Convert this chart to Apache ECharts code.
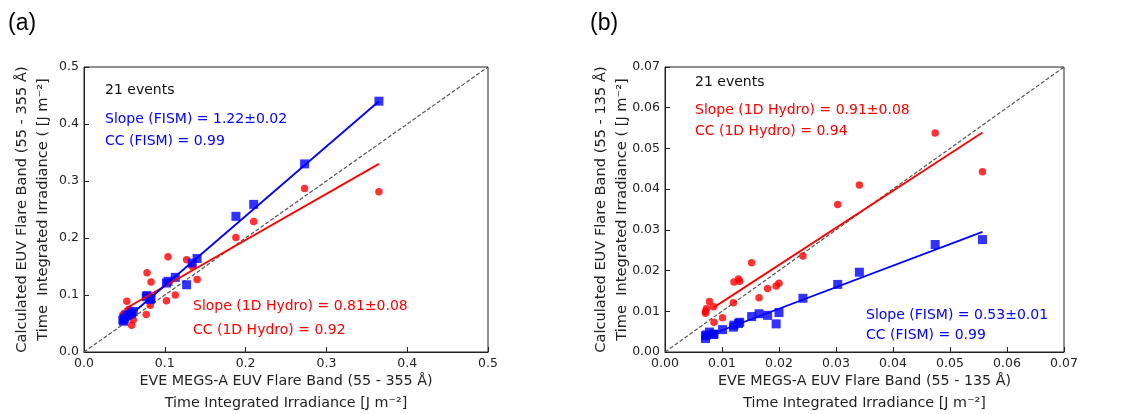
<!DOCTYPE html>
<html>
<head>
<meta charset="utf-8">
<script src="https://cdn.jsdelivr.net/npm/echarts@6/dist/echarts.min.js"></script>
<style>
  html, body { margin: 0; padding: 0; background: #fff; }
  #chart { width: 1134px; height: 414px; }
</style>
</head>
<body>
<div id="chart"></div>
<script>
// Panel (a): 55-355 Å band, observed (EVE) vs calculated irradiance per event
const eveA   = [0.365, 0.273, 0.210, 0.188, 0.140, 0.134, 0.127, 0.113, 0.104, 0.102, 0.083,
                0.078, 0.082, 0.077, 0.061, 0.059, 0.056, 0.053, 0.050, 0.048, 0.049];
const fismA  = [0.440, 0.330, 0.259, 0.238, 0.164, 0.156, 0.118, 0.131, 0.124, 0.121, 0.094,
                0.099, 0.092, 0.097, 0.071, 0.068, 0.066, 0.064, 0.059, 0.056, 0.054];
const hydroA = [0.281, 0.287, 0.229, 0.201, 0.127, 0.150, 0.162, 0.100, 0.167, 0.090, 0.123,
                0.139, 0.082, 0.066, 0.056, 0.047, 0.075, 0.089, 0.068, 0.065, 0.060];
// Least-squares fit lines (end points)
const fitFismA  = [[0.048, 0.053], [0.365, 0.440]];
const fitHydroA = [[0.050, 0.075], [0.365, 0.330]];

// Panel (b): 55-135 Å band
const eveB   = [0.0557, 0.0474, 0.0341, 0.0303, 0.0242, 0.0200, 0.0195, 0.0180, 0.0165, 0.0152, 0.0131,
                0.0129, 0.0121, 0.0120, 0.0101, 0.0086, 0.0085, 0.0078, 0.0073, 0.0071, 0.0071];
const fismB  = [0.0276, 0.0264, 0.0196, 0.0166, 0.0132, 0.0097, 0.0069, 0.0090, 0.0094, 0.0087, 0.0073,
                0.0070, 0.0066, 0.0061, 0.0055, 0.0044, 0.0043, 0.0049, 0.0042, 0.0040, 0.0033];
const hydroB = [0.0443, 0.0538, 0.0410, 0.0362, 0.0236, 0.0169, 0.0162, 0.0156, 0.0133, 0.0219, 0.0174,
                0.0179, 0.0172, 0.0121, 0.0084, 0.0073, 0.0111, 0.0124, 0.0107, 0.0095, 0.0100];
const fitFismB  = [[0.0071, 0.0038], [0.0557, 0.0295]];
const fitHydroB = [[0.0085, 0.0109], [0.0557, 0.0539]];

// Axis ranges and tick steps
const axisA = { max: 0.5, step: 0.1, digits: 1 };
const axisB = { max: 0.07, step: 0.01, digits: 2 };

const zip = (xs, ys) => xs.map((x, i) => [x, ys[i]]);

const FONT = 'DejaVu Sans';
const BLUE = '#0000ff';
const RED = '#ff0000';
const INK = '#222';

const GRIDS = [
  { left: 84, top: 67, width: 404, height: 285 },
  { left: 665, top: 67, width: 399, height: 285 }
];

function valueAxis(idx, ax) {
  return {
    type: 'value', gridIndex: idx, min: 0, max: ax.max, interval: ax.step,
    axisLine: { show: true, lineStyle: { color: INK, width: 1 } },
    axisTick: { show: true, inside: true, length: 5, lineStyle: { color: INK } },
    axisLabel: {
      color: INK, fontFamily: FONT, fontSize: 12.5, margin: 5,
      formatter: v => v.toFixed(ax.digits)
    },
    splitLine: { show: false }
  };
}

function panelSeries(idx, ax, eve, fism, hydro, fitF, fitH) {
  return [
    {
      type: 'line', xAxisIndex: idx, yAxisIndex: idx, data: [[0, 0], [ax.max, ax.max]],
      symbol: 'none', silent: true, z: 1,
      lineStyle: { color: '#555', width: 1.2, type: [4, 2] }
    },
    {
      type: 'scatter', xAxisIndex: idx, yAxisIndex: idx, data: zip(eve, hydro),
      symbol: 'circle', symbolSize: 7.5, itemStyle: { color: RED }, z: 2
    },
    {
      type: 'scatter', xAxisIndex: idx, yAxisIndex: idx, data: zip(eve, fism),
      symbol: 'rect', symbolSize: 9, itemStyle: { color: BLUE }, z: 3
    },
    {
      type: 'line', xAxisIndex: idx, yAxisIndex: idx, data: fitH,
      symbol: 'none', z: 4, lineStyle: { color: RED, width: 1.8 }
    },
    {
      type: 'line', xAxisIndex: idx, yAxisIndex: idx, data: fitF,
      symbol: 'none', z: 4, lineStyle: { color: BLUE, width: 1.8 }
    }
  ];
}

function txt(x, y, text, color, size, extra, family) {
  return Object.assign({
    type: 'text', x: x, y: y, z: 10,
    style: {
      text: text, fill: color, font: `${size}px "${family || FONT}"`,
      textAlign: 'left', textVerticalAlign: 'middle'
    }
  }, extra || {});
}

function axisTitles(grid, bandText, yLine1X, yLine2X) {
  const cx = grid.left + grid.width / 2;
  const cy = grid.top + grid.height / 2;
  const rot = { rotation: Math.PI / 2 };
  const items = [
    txt(cx, grid.top + grid.height + 29, `EVE MEGS-A EUV Flare Band (${bandText})`, INK, 14.3),
    txt(cx, grid.top + grid.height + 51, 'Time Integrated Irradiance [J m⁻²]', INK, 14.3),
    txt(yLine1X, cy, `Calculated EUV Flare Band (${bandText})`, INK, 14.6, rot),
    txt(yLine2X, cy, 'Time  Integrated Irradiance ( [J m⁻²]', INK, 14.6, rot)
  ];
  items.forEach(it => { it.style.textAlign = 'center'; });
  return items;
}

const chart = echarts.init(document.getElementById('chart'), null, { renderer: 'canvas' });

chart.setOption({
  backgroundColor: '#fff',
  animation: false,
  grid: GRIDS.map(g => Object.assign({ show: true, borderColor: INK, borderWidth: 1, containLabel: false }, g)),
  xAxis: [valueAxis(0, axisA), valueAxis(1, axisB)],
  yAxis: [valueAxis(0, axisA), valueAxis(1, axisB)],
  series: [
    ...panelSeries(0, axisA, eveA, fismA, hydroA, fitFismA, fitHydroA),
    ...panelSeries(1, axisB, eveB, fismB, hydroB, fitFismB, fitHydroB)
  ],
  graphic: [
    txt(8, 24, '(a)', '#000', 23, null, 'Liberation Sans'),
    txt(590, 24, '(b)', '#000', 23, null, 'Liberation Sans'),

    txt(105, 90, '21 events', '#111', 14),
    txt(105, 119, 'Slope (FISM) = 1.22±0.02', BLUE, 14),
    txt(105, 141, 'CC (FISM) = 0.99', BLUE, 14),
    txt(193, 306, 'Slope (1D Hydro) = 0.81±0.08', RED, 14),
    txt(193, 330, 'CC (1D Hydro) = 0.92', RED, 14),

    txt(695, 82, '21 events', '#111', 14),
    txt(695, 110, 'Slope (1D Hydro) = 0.91±0.08', RED, 14),
    txt(695, 131, 'CC (1D Hydro) = 0.94', RED, 14),
    txt(866, 315, 'Slope (FISM) = 0.53±0.01', BLUE, 14),
    txt(866, 335, 'CC (FISM) = 0.99', BLUE, 14),

    ...axisTitles(GRIDS[0], '55 - 355 Å', 22, 43),
    ...axisTitles(GRIDS[1], '55 - 135 Å', 601, 622)
  ]
});
</script>
</body>
</html>
